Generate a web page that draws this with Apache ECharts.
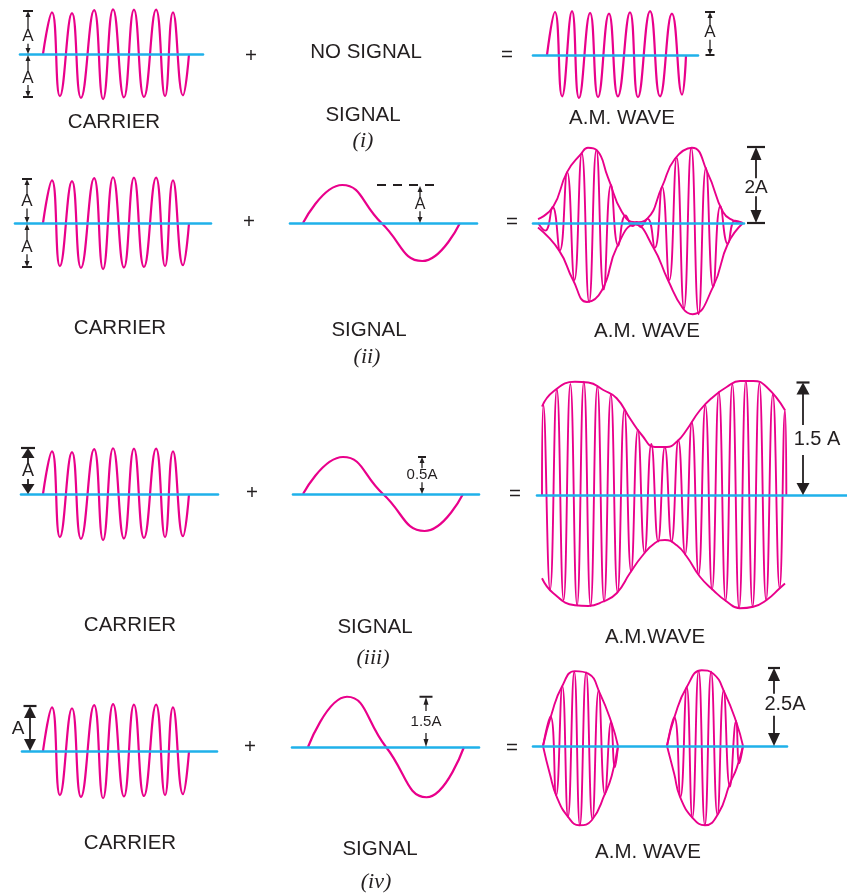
<!DOCTYPE html>
<html><head><meta charset="utf-8">
<script src="https://cdn.jsdelivr.net/npm/echarts@6.0.0/dist/echarts.min.js"></script>
<style>html,body{margin:0;padding:0;background:#fff}#c{width:847px;height:893px}</style>
</head><body><div id="c"></div>
<script>
// ================= DATA (time in cycles, amplitude in units of A) =================
// carrier (same drawing in all four rows)
const carrierT = [0, 0.43, 0.81, 1.39, 1.82, 2.45, 2.88, 3.36, 3.88, 4.36, 4.84, 5.42, 5.85, 6.23, 6.71, 7.0];
const carrierV = [0, 0.97, -0.98, 0.95, -1.02, 1.02, -1.05, 1.04, -1.01, 1.03, -1.0, 1.03, -0.98, 0.97, -0.96, 0];
// (i) A.M. wave with no signal
const am1T = [0, 0.40, 0.76, 1.26, 1.61, 2.17, 2.57, 3.12, 3.57, 4.18, 4.58, 5.19, 5.69, 6.29, 6.80, 7.0];
const am1V = [0, 1.0, -0.96, 1.02, -1.0, 0.98, -0.98, 0.96, -0.96, 0.99, -0.98, 1.02, -0.96, 0.96, -0.92, 0];
// signals (time in signal cycles)
const signalT = [0, 0.25, 0.5, 0.76, 1];
const signal2V = [0, 1, 0, -1, 0];
const signal3V = [0, 0.5, 0, -0.5, 0];
const signal4V = [0, 1.5, 0, -1.5, 0];
// (ii) A.M. wave
const am2T = [0, 0.5, 1, 1.5, 2, 2.5, 3, 3.5, 4, 4.5, 5, 5.5, 6, 6.5, 6.75, 7, 7.5, 8, 8.5, 9, 9.5, 10, 10.5, 11, 11.5, 12, 12.5, 13, 13.5, 14];
const am2V = [0, -0.2, 0.42, -0.72, 1.34, -1.5, 1.84, -2.08, 1.92, -1.75, 1.0, -0.6, 0.2, -0.08, 0.03, -0.1, 0.11, -0.65, 0.95, -1.5, 1.72, -2.25, 1.98, -2.4, 1.45, -1.68, 0.45, -0.55, 0.06, 0];
const env2TopT = [0, 1.03, 1.99, 2.95, 3.42, 4.04, 4.79, 5.75, 6.64, 7.47, 8.49, 9.38, 10.55, 11.64, 12.67, 13.36, 14.04];
const env2TopV = [0.1, 0.42, 1.34, 1.82, 1.98, 1.91, 1.2, 0.29, 0.02, 0.11, 0.95, 1.69, 1.98, 1.3, 0.29, 0.07, 0];
const env2BotT = [0, 1.44, 2.4, 3.36, 4.38, 5.41, 6.64, 7.88, 8.9, 9.93, 10.6, 11.99, 13.01, 14.04];
const env2BotV = [-0.12, -0.72, -1.5, -2.08, -1.77, -0.63, -0.04, -0.63, -1.5, -2.25, -2.4, -1.68, -0.54, 0];
// (iii) A.M. wave
const am3T = [0, 0.1, 0.6, 1.1, 1.6, 2.1, 2.6, 3.1, 3.6, 4.1, 4.6, 5.1, 5.6, 6.1, 6.6, 7.1, 7.6, 8.1, 8.6, 9.1, 9.6, 10.1, 10.6, 11.1, 11.6, 12.1, 12.6, 13.1, 13.6, 14.1, 14.6, 15.1, 15.6, 16.1, 16.6, 17.1, 17.6, 18.0, 18.1];
const am3V = [0, 1.20, -1.26, 1.41, -1.40, 1.48, -1.47, 1.51, -1.48, 1.45, -1.42, 1.34, -1.30, 1.14, -1.02, 0.87, -0.77, 0.68, -0.62, 0.64, -0.62, 0.73, -0.79, 0.97, -1.06, 1.20, -1.26, 1.37, -1.41, 1.48, -1.51, 1.52, -1.49, 1.49, -1.40, 1.34, -1.24, 1.13, 0];
const env3TopT = [0, 0.84, 2.44, 3.43, 4.54, 5.53, 6.52, 7.39, 8.37, 9.24, 9.98, 10.72, 11.7, 12.69, 13.68, 14.67, 15.65, 16.64, 18];
const env3TopV = [1.18, 1.38, 1.51, 1.50, 1.40, 1.29, 1.02, 0.80, 0.64, 0.64, 0.71, 0.87, 1.13, 1.31, 1.44, 1.52, 1.52, 1.44, 1.13];
const env3BotT = [0, 0.84, 2.44, 3.43, 4.54, 5.53, 6.52, 7.39, 8.37, 9.11, 9.98, 10.72, 11.7, 12.69, 13.68, 14.67, 15.65, 16.64, 17.63, 18];
const env3BotV = [-1.11, -1.31, -1.47, -1.48, -1.42, -1.31, -1.04, -0.82, -0.64, -0.60, -0.67, -0.82, -1.09, -1.27, -1.42, -1.51, -1.49, -1.40, -1.24, -1.18];
// (iv) A.M. wave (over-modulated: two separate lobes)
const am4aT = [0, 0.6, 1.05, 1.55, 2.0, 2.5, 2.95, 3.45, 3.95, 4.45, 4.95, 5.45, 5.75, 6.0];
const am4aV = [0, 0.95, -1.58, 1.92, -2.27, 2.38, -2.54, 2.36, -2.35, 1.78, -1.55, 0.78, -0.68, 0];
const am4bT = [9.92, 10.5, 11.0, 11.5, 11.95, 12.45, 12.95, 13.45, 13.95, 14.45, 14.95, 15.45, 15.7, 16.0];
const am4bV = [0, 0.92, -1.63, 1.89, -2.30, 2.40, -2.53, 2.38, -2.20, 1.78, -1.30, 0.80, -0.55, 0];
const env4aTopT = [0, 0.7, 1.5, 2.56, 3.62, 4.56, 5.5, 6];
const env4aTopV = [0, 1.04, 1.89, 2.40, 2.32, 1.68, 0.72, 0];
const env4aBotT = [0, 0.55, 1.1, 2.02, 2.9, 3.9, 4.96, 5.5, 6];
const env4aBotV = [0, -0.9, -1.63, -2.28, -2.54, -2.38, -1.53, -0.95, 0];
const env4bTopT = [9.92, 10.56, 11.5, 12.7, 13.62, 14.56, 15.5, 16];
const env4bTopV = [0, 0.98, 1.89, 2.43, 2.32, 1.68, 0.72, 0];
const env4bBotT = [9.92, 10.5, 10.96, 12.02, 12.96, 14.02, 14.96, 15.5, 16];
const env4bBotV = [0, -0.9, -1.63, -2.33, -2.54, -2.17, -1.2, -0.7, 0];
// dimension values (units of A) and texts
const dimCarrier = 1, dimSig2 = 1, dimAm2 = 2, dimSig3 = 0.5, dimAm3 = 1.5, dimSig4 = 1.5, dimAm4 = 2.5;
const dimLabels = ['A', 'A', '2A', 'A', '0.5A', '1.5 A', 'A', '1.5A', '2.5A'];
const carrierTitle = 'CARRIER', signalTitle = 'SIGNAL', noSignalTitle = 'NO SIGNAL';
const amTitles = ['A.M. WAVE', 'A.M. WAVE', 'A.M.WAVE', 'A.M. WAVE'];
const rowCaptions = ['(i)', '(ii)', '(iii)', '(iv)'];

// ================= LAYOUT =================
const MAG = '#e9008b', CYAN = '#1fb1ea', INK = '#231f20';
const SANS = '"Liberation Sans", Arial, Helvetica, sans-serif';
// l/r: baseline extent, y: baseline, pa: px per unit, t0: px of t=0, pt: px per cycle
const panels = [
  {l:20,  r:203, y:54,  pa:43,   t0:43,  pt:20.86}, // 0 carrier (i)
  {l:533, r:698, y:55,  pa:43,   t0:547, pt:19.86}, // 1 AM (i)
  {l:15,  r:211, y:223, pa:44,   t0:43,  pt:20.86}, // 2 carrier (ii)
  {l:290, r:477, y:223, pa:38,   t0:303, pt:157},   // 3 signal (ii)
  {l:533, r:744, y:223, pa:38,   t0:538, pt:14.6},  // 4 AM (ii)
  {l:21,  r:218, y:494, pa:44,   t0:43,  pt:20.86}, // 5 carrier (iii)
  {l:293, r:479, y:494, pa:74,   t0:303, pt:160},   // 6 signal (iii)
  {l:537, r:847, y:495, pa:75,   t0:542, pt:13.5},  // 7 AM (iii)
  {l:22,  r:217, y:751, pa:45,   t0:43,  pt:20.86}, // 8 carrier (iv)
  {l:292, r:479, y:747, pa:33.5, t0:308, pt:156},   // 9 signal (iv)
  {l:533, r:787, y:746, pa:31.2, t0:543, pt:12.5}   // 10 AM (iv)
];
const pairs = (T, V) => T.map((t, i) => [t, V[i]]);
function wave(p, T, V, w) {
  return {type:'line', xAxisIndex:p, yAxisIndex:p, data:pairs(T, V), smooth:true, symbol:'none',
    showSymbol:false, clip:false, silent:true, z:3, lineStyle:{color:MAG, width:w || 2.2}};
}
const series = [
  wave(0, carrierT, carrierV), wave(1, am1T, am1V),
  wave(2, carrierT, carrierV), wave(3, signalT, signal2V), wave(4, am2T, am2V, 1.9),
  wave(4, env2TopT, env2TopV, 1.9), wave(4, env2BotT, env2BotV, 1.9),
  wave(5, carrierT, carrierV), wave(6, signalT, signal3V), wave(7, am3T, am3V, 1.9),
  wave(7, env3TopT, env3TopV, 1.9), wave(7, env3BotT, env3BotV, 1.9),
  wave(8, carrierT, carrierV), wave(9, signalT, signal4V),
  wave(10, am4aT, am4aV, 1.9), wave(10, am4bT, am4bV, 1.9),
  wave(10, env4aTopT, env4aTopV, 1.9), wave(10, env4aBotT, env4aBotV, 1.9),
  wave(10, env4bTopT, env4bTopV, 1.9), wave(10, env4bBotT, env4bBotV, 1.9)
];

// ---------- annotations ----------
const G = [];
const py = (p, v) => panels[p].y - v * panels[p].pa;
function txt(s, x, y, font) {
  G.push({type:'text', x:x, y:y, silent:true, z:50,
    style:{text:s, font:font, fill:INK, textAlign:'center', textVerticalAlign:'middle', align:'center', verticalAlign:'middle'}});
}
function seg(x1, y1, x2, y2, w, dash) {
  G.push({type:'line', silent:true, z:50, shape:{x1, y1, x2, y2}, style:{stroke:INK, lineWidth:w, lineDash:dash || null}});
}
function tri(pts) { G.push({type:'polygon', silent:true, z:50, shape:{points:pts}, style:{fill:INK}}); }
function dim(o) {
  const x = o.x, y1 = o.y1, y2 = o.y2, hw = o.head[0] / 2, hh = o.head[1];
  tri([[x, y1], [x - hw, y1 + hh], [x + hw, y1 + hh]]);
  tri([[x, y2], [x - hw, y2 - hh], [x + hw, y2 - hh]]);
  const s1 = y1 + hh * 0.7, s2 = y2 - hh * 0.7;
  const ly = y1 + o.f * (y2 - y1);
  if (o.label && o.gap) {
    const gh = o.gh || o.fs * 0.55;
    seg(x, s1, x, ly - gh, o.lw);
    seg(x, ly + gh, x, s2, o.lw);
  } else seg(x, s1, x, s2, o.lw);
  if (o.capT) seg(x - o.capT / 2, y1, x + o.capT / 2, y1, o.cw || 2);
  if (o.capB) seg(x - o.capB / 2, y2, x + o.capB / 2, y2, o.cw || 2);
  if (o.label) txt(o.label, o.lx !== undefined ? o.lx : x, o.ly !== undefined ? o.ly : ly, o.fs + 'px ' + SANS);
}
const SMALL = [5, 6], BIG = [12, 12];
// row (i)
dim({x:28, y1:py(0, dimCarrier), y2:py(0, 0), head:SMALL, lw:1.3, capT:10, label:dimLabels[0], fs:17, f:0.6, gap:true, gh:7});
dim({x:28, y1:py(0, 0) + 1, y2:py(0, -dimCarrier), head:SMALL, lw:1.3, capB:10, label:dimLabels[0], fs:17, f:0.55, gap:true, gh:7});
dim({x:710, y1:py(1, dimCarrier), y2:py(1, 0), head:SMALL, lw:1.3, capT:10, capB:9, label:dimLabels[1], fs:17, f:0.48, gap:true, gh:7});
// row (ii)
dim({x:27, y1:py(2, dimCarrier), y2:py(2, 0), head:SMALL, lw:1.3, capT:10, label:dimLabels[0], fs:17, f:0.51, gap:true, gh:7});
dim({x:27, y1:py(2, 0) + 1, y2:py(2, -dimCarrier), head:SMALL, lw:1.3, capB:10, label:dimLabels[0], fs:17, f:0.54, gap:true, gh:7});
seg(377, py(3, dimSig2), 434, py(3, dimSig2), 2, [9, 7]);
dim({x:420, y1:py(3, dimSig2) + 1, y2:py(3, 0), head:SMALL, lw:1.3, label:dimLabels[3], fs:16, f:0.49, gap:true, gh:7});
dim({x:756, y1:py(4, dimAm2), y2:py(4, 0), head:[11, 13], lw:1.8, capT:18, capB:18, cw:2.2, label:dimLabels[2], fs:19, f:0.53, gap:true, gh:9});
// row (iii)
dim({x:28, y1:py(5, dimCarrier) - 2, y2:py(5, 0), head:[13, 10], lw:1.8, capT:14, cw:2.2, label:dimLabels[0], fs:18, f:0.5, gap:true, gh:8});
dim({x:422, y1:py(6, dimSig3), y2:py(6, 0), head:SMALL, lw:1.3, capT:8, label:dimLabels[4], fs:15, f:0.49, gap:true, gh:7});
dim({x:803, y1:py(7, dimAm3), y2:py(7, 0), head:[13, 12], lw:1.8, capT:13, cw:2.2, label:dimLabels[5], lx:817, fs:20, f:0.51, gap:true, gh:15});
// row (iv)
dim({x:30, y1:py(8, dimCarrier), y2:py(8, 0), head:BIG, lw:1.8, capT:13, cw:2.2, label:dimLabels[6], lx:18, fs:19, f:0.5, gap:false});
dim({x:426, y1:py(9, dimSig4), y2:py(9, 0), head:[5, 8], lw:1.3, capT:13, label:dimLabels[7], fs:15, f:0.5, gap:true, gh:11});
dim({x:774, y1:py(10, dimAm4), y2:py(10, 0), head:[12, 13], lw:1.8, capT:12, cw:2.2, label:dimLabels[8], lx:785, fs:20, f:0.47, gap:true, gh:11});

// titles
const F = '20.5px ' + SANS, FR = 'italic 22px "Liberation Serif", "Times New Roman", serif';
txt(carrierTitle, 114, 122, F); txt('+', 251, 56, F); txt(noSignalTitle, 366, 52, F);
txt(signalTitle, 363, 115, F); txt(rowCaptions[0], 363, 141, FR); txt('=', 507, 55, F); txt(amTitles[0], 622, 118, F);
txt(carrierTitle, 120, 328, F); txt('+', 249, 222, F); txt(signalTitle, 369, 330, F);
txt(rowCaptions[1], 367, 357, FR); txt('=', 512, 222, F); txt(amTitles[1], 647, 331, F);
txt(carrierTitle, 130, 625, F); txt('+', 252, 493, F); txt(signalTitle, 375, 627, F);
txt(rowCaptions[2], 373, 658, FR); txt('=', 515, 494, F); txt(amTitles[2], 655, 637, F);
txt(carrierTitle, 130, 843, F); txt('+', 250, 747, F); txt(signalTitle, 380, 849, F);
txt(rowCaptions[3], 376, 882, FR); txt('=', 512, 748, F); txt(amTitles[3], 648, 852, F);

const option = {
  backgroundColor:'#ffffff', animation:false,
  grid: panels.map(p => ({left:p.l, top:p.y - p.pa, width:p.r - p.l, height:2 * p.pa})),
  xAxis: panels.map((p, i) => ({gridIndex:i, type:'value', min:(p.l - p.t0) / p.pt, max:(p.r - p.t0) / p.pt, z:10,
    axisLine:{show:true, onZero:true, lineStyle:{color:CYAN, width:2.6}}, axisTick:{show:false}, axisLabel:{show:false}, splitLine:{show:false}})),
  yAxis: panels.map((p, i) => ({gridIndex:i, type:'value', min:-1, max:1,
    axisLine:{show:false}, axisTick:{show:false}, axisLabel:{show:false}, splitLine:{show:false}})),
  series: series,
  graphic: G
};
const chart = echarts.init(document.getElementById('c'), null, {renderer:'canvas'});
chart.setOption(option);
</script></body></html>
